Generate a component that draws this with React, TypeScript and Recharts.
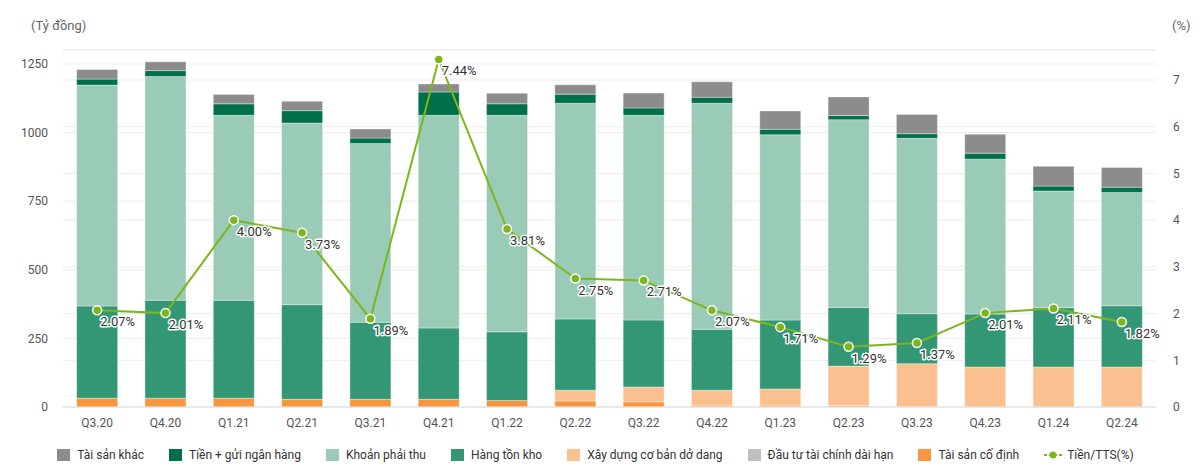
import React from 'react';
import {
  ComposedChart,
  Bar,
  Line,
  XAxis,
  YAxis,
  CartesianGrid,
  LabelList
} from 'recharts';

const quarters = ['Q3.20', 'Q4.20', 'Q1.21', 'Q2.21', 'Q3.21', 'Q4.21', 'Q1.22', 'Q2.22', 'Q3.22', 'Q4.22', 'Q1.23', 'Q2.23', 'Q3.23', 'Q4.23', 'Q1.24', 'Q2.24'];
const taiSanCoDinh = [32, 32, 32, 28, 28, 28, 24, 22, 19, 4, 4, 5, 1, 0, 0, 0];
const dauTuTaiChinh = [0, 0, 0, 0, 0, 0, 0, 0, 0, 0, 0, 0, 0, 0, 0, 0];
const xayDungCoBan = [0, 0, 0, 0, 0, 0, 0, 39, 54, 57, 62, 144, 157, 146, 146, 146];
const hangTonKho = [336, 357, 357, 345, 281, 260, 250, 260, 244, 222, 251, 214, 182, 193, 216, 223];
const khoanPhaiThu = [805, 815, 674, 662, 651, 775, 789, 786, 746, 824, 675, 684, 639, 564, 425, 413];
const tienGui = [22, 22, 42, 45, 20, 85, 42, 33, 27, 22, 20, 15, 17, 22, 18, 19];
const taiSanKhac = [35, 32, 34, 34, 33, 29, 38, 34, 54, 56, 67, 68, 70, 69, 72, 72];
const tienTts = [2.07, 2.01, 4.0, 3.73, 1.89, 7.44, 3.81, 2.75, 2.71, 2.07, 1.71, 1.29, 1.37, 2.01, 2.11, 1.82];

const leftTicks = [0, 250, 500, 750, 1000, 1250];
const rightTicks = [0, 1, 2, 3, 4, 5, 6, 7];

// bottom -> top stacking order
const barSeries = [
  { key: 'coDinh', name: 'Tài sản cố định', values: taiSanCoDinh, color: '#F7963F' },
  { key: 'dauTu', name: 'Đầu tư tài chính dài hạn', values: dauTuTaiChinh, color: '#BFBFBF' },
  { key: 'xdcb', name: 'Xây dựng cơ bản dở dang', values: xayDungCoBan, color: '#FAC08F' },
  { key: 'htk', name: 'Hàng tồn kho', values: hangTonKho, color: '#339775' },
  { key: 'kpt', name: 'Khoản phải thu', values: khoanPhaiThu, color: '#9ACBB7' },
  { key: 'tien', name: 'Tiền + gửi ngân hàng', values: tienGui, color: '#00704A' },
  { key: 'khac', name: 'Tài sản khác', values: taiSanKhac, color: '#8C8C8C' }
];

const LINE_COLOR = '#7DB61C';

const data = quarters.map((q, i) => {
  const row: Record<string, string | number> = { quarter: q, ratio: tienTts[i] };
  barSeries.forEach((s) => {
    row[s.key] = s.values[i];
  });
  return row;
});

const renderRatioLabel = (props: any) => {
  const { x, y, value } = props;
  return (
    <text
      x={x + 3}
      y={y + 16}
      fontSize={13}
      fill="#333"
      stroke="#fff"
      strokeWidth={3}
      paintOrder="stroke"
      strokeLinejoin="round"
    >
      {Number(value).toFixed(2)}%
    </text>
  );
};

const LegendRow = () => (
  <div
    style={{
      position: 'absolute',
      left: 0,
      top: 448,
      width: 1191,
      display: 'flex',
      justifyContent: 'center',
      alignItems: 'center',
      gap: 25,
      fontSize: 12,
      color: '#333'
    }}
  >
    {[...barSeries].reverse().map((s) => (
      <div key={s.key} style={{ display: 'flex', alignItems: 'center', gap: 7 }}>
        <span style={{ width: 13, height: 12, background: s.color, display: 'inline-block' }} />
        <span>{s.name}</span>
      </div>
    ))}
    <div style={{ display: 'flex', alignItems: 'center', gap: 5 }}>
      <svg width={18} height={10}>
        <line x1={0} y1={5} x2={18} y2={5} stroke={LINE_COLOR} strokeWidth={2} strokeDasharray="3 2" />
        <circle cx={9} cy={5} r={3.5} fill={LINE_COLOR} />
      </svg>
      <span>Tiền/TTS(%)</span>
    </div>
  </div>
);

export default function App() {
  return (
    <div
      style={{
        position: 'absolute',
        left: 0,
        top: 0,
        width: 1200,
        height: 472,
        background: '#fff',
        fontFamily: 'Roboto, sans-serif'
      }}
    >
      <div style={{ position: 'absolute', left: 31, top: 18, fontSize: 13, color: '#666' }}>(Tỷ đồng)</div>
      <div style={{ position: 'absolute', left: 1172, top: 18, fontSize: 13, color: '#666' }}>(%)</div>
      <ComposedChart
        width={1200}
        height={472}
        data={data}
        margin={{ top: 50, right: 0, bottom: 35, left: 0 }}
        barCategoryGap="20%"
      >
        <CartesianGrid yAxisId="left" vertical={false} stroke="#ECECEC" />
        <CartesianGrid yAxisId="right" vertical={false} stroke="#ECECEC" />
        <XAxis
          dataKey="quarter"
          height={30}
          tickLine={false}
          tickSize={0}
          tickMargin={11}
          axisLine={{ stroke: '#E0E0E0' }}
          tick={{ fontSize: 12, fill: '#555' }}
        />
        <YAxis
          yAxisId="left"
          width={63}
          domain={[0, 1301]}
          ticks={leftTicks}
          axisLine={false}
          tickLine={false}
          tickSize={0}
          tickMargin={15}
          tick={{ fontSize: 12, fill: '#555' }}
        />
        <YAxis
          yAxisId="right"
          orientation="right"
          width={44}
          domain={[0, 7.643]}
          ticks={rightTicks}
          axisLine={false}
          tickLine={false}
          tickSize={0}
          tickMargin={17}
          tick={{ fontSize: 12, fill: '#555' }}
        />
        {barSeries.map((s) => (
          <Bar
            key={s.key}
            yAxisId="left"
            dataKey={s.key}
            name={s.name}
            stackId="assets"
            fill={s.color}
            stroke="#ffffff"
            strokeOpacity={0.6}
            strokeWidth={0.6}
            isAnimationActive={false}
          />
        ))}
        <Line
          yAxisId="right"
          dataKey="ratio"
          name="Tiền/TTS(%)"
          stroke={LINE_COLOR}
          strokeWidth={2}
          dot={{ r: 4.5, fill: LINE_COLOR, stroke: '#fff', strokeWidth: 1.5 }}
          activeDot={false}
          isAnimationActive={false}
        >
          <LabelList dataKey="ratio" content={renderRatioLabel} />
        </Line>
      </ComposedChart>
      <LegendRow />
    </div>
  );
}
